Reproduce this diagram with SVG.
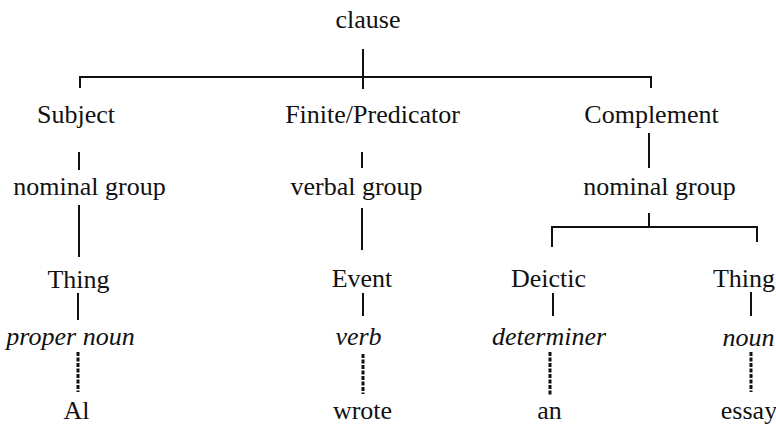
<svg xmlns="http://www.w3.org/2000/svg" width="776" height="426" viewBox="0 0 776 426">
<style>
.t text{font-size:26px;fill:#111;text-anchor:middle}
.it{font-style:italic}
.ln{stroke:#111;stroke-width:2;fill:none}
.dt{stroke:#111;stroke-width:3;fill:none;stroke-dasharray:4 1.5}
</style>
<rect width="776" height="426" fill="#fff"/>
<g id="connectors">
<path class="ln" d="M363 49V89M80 88V77H651V88"/>
<path class="ln" d="M79 152V170M362 152V168M649 133V168"/>
<path class="ln" d="M79 205V257M362 208V250M649 213V227M552 247V227H757V242"/>
<path class="ln" d="M78 293V320M363 293V316M553 293V316M751 292V316"/>
<path class="dt" d="M78 352V392M363 354V394M550 352V395M751 352V392"/>
</g>
<g class="t" font-family="Liberation Serif, Times New Roman, serif">
<g id="clause"><text x="368" y="28">clause</text></g>
<g id="subject"><text x="76" y="123">Subject</text></g>
<g id="finite-predicator"><text x="372.5" y="123">Finite/Predicator</text></g>
<g id="complement"><text x="651.5" y="123">Complement</text></g>
<g id="nominal-group-1"><text x="89.5" y="195">nominal group</text></g>
<g id="verbal-group"><text x="356.5" y="195">verbal group</text></g>
<g id="nominal-group-2"><text x="659.5" y="195">nominal group</text></g>
<g id="thing-1"><text x="78.5" y="288">Thing</text></g>
<g id="event"><text x="362" y="287">Event</text></g>
<g id="deictic"><text x="548.5" y="287">Deictic</text></g>
<g id="thing-2"><text x="744" y="287">Thing</text></g>
<g id="proper-noun"><text class="it" x="70.5" y="345">proper noun</text></g>
<g id="verb"><text class="it" x="358.5" y="345">verb</text></g>
<g id="determiner"><text class="it" x="549" y="345">determiner</text></g>
<g id="noun"><text class="it" x="748.5" y="346">noun</text></g>
<g id="al"><text x="76.5" y="419">Al</text></g>
<g id="wrote"><text x="362.5" y="419">wrote</text></g>
<g id="an"><text x="549.5" y="419">an</text></g>
<g id="essay"><text x="749" y="419">essay</text></g>
</g>
</svg>
